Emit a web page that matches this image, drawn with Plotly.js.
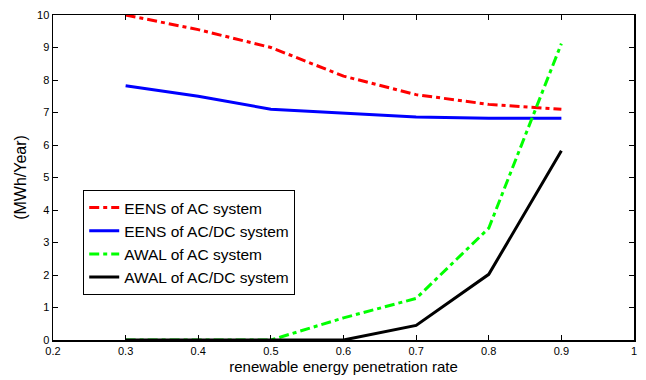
<!DOCTYPE html>
<html>
<head>
<meta charset="utf-8">
<script src="https://cdn.plot.ly/plotly-3.0.1.min.js"></script>
<style>html,body{margin:0;padding:0;background:#fff}#chart{width:646px;height:380px}</style>
</head>
<body>
<div id="chart"></div>
<script>
const penetration = [0.3, 0.4, 0.5, 0.6, 0.7, 0.8, 0.9];
const eensAC = [10.0, 9.55, 9.0, 8.12, 7.55, 7.25, 7.1];
const eensACDC = [7.82, 7.5, 7.1, 6.98, 6.86, 6.82, 6.82];
const awalAC = [0, 0, 0, 0.68, 1.28, 3.44, 9.12];
const awalACDC = [0, 0, 0, 0, 0.45, 2.02, 5.82];
const seriesNames = ["EENS of AC system", "EENS of AC/DC system", "AWAL of AC system", "AWAL of AC/DC system"];
const xTicks = [0.2, 0.3, 0.4, 0.5, 0.6, 0.7, 0.8, 0.9, 1];
const xTickLabels = ["0.2", "0.3", "0.4", "0.5", "0.6", "0.7", "0.8", "0.9", "1"];
const yTicks = [0, 1, 2, 3, 4, 5, 6, 7, 8, 9, 10];

const dd = "10px,4px,4px,4px";
const traces = [
  {x: penetration, y: eensAC, name: seriesNames[0], mode: "lines", line: {color: "#ff0000", width: 3, dash: dd}},
  {x: penetration, y: eensACDC, name: seriesNames[1], mode: "lines", line: {color: "#0000ff", width: 3}},
  {x: penetration, y: awalAC, name: seriesNames[2], mode: "lines", line: {color: "#00ff00", width: 3, dash: dd}},
  {x: penetration, y: awalACDC, name: seriesNames[3], mode: "lines", line: {color: "#000000", width: 3}}
];

const fam = "Liberation Sans, Arial, sans-serif";
const axisCommon = {
  showgrid: false, zeroline: false, showline: true, mirror: "ticks",
  linecolor: "#000", linewidth: 1.5, ticks: "inside", ticklen: 5, tickcolor: "#000",
  tickfont: {family: fam, size: 11, color: "#000"}
};

const layout = {
  width: 646, height: 380,
  margin: {l: 53, r: 12, t: 15, b: 40},
  paper_bgcolor: "#fff", plot_bgcolor: "#fff",
  showlegend: true,
  legend: {
    x: 0.052, y: 0.4615, xanchor: "left", yanchor: "top",
    bordercolor: "#000", borderwidth: 1, bgcolor: "#fff",
    font: {family: fam, size: 15.5, color: "#000"},
    tracegroupgap: 0
  },
  xaxis: Object.assign({}, axisCommon, {
    range: [0.2, 1], tickvals: xTicks, ticktext: xTickLabels,
    title: {text: "renewable energy penetration rate", font: {family: fam, size: 15, color: "#000"}, standoff: 6}
  }),
  yaxis: Object.assign({}, axisCommon, {
    range: [0, 10], tickvals: yTicks,
    title: {text: "(MWh/Year)", font: {family: fam, size: 16, color: "#000"}, standoff: 6}
  })
};

Plotly.newPlot("chart", traces, layout, {displayModeBar: false, staticPlot: true});
</script>
</body>
</html>
